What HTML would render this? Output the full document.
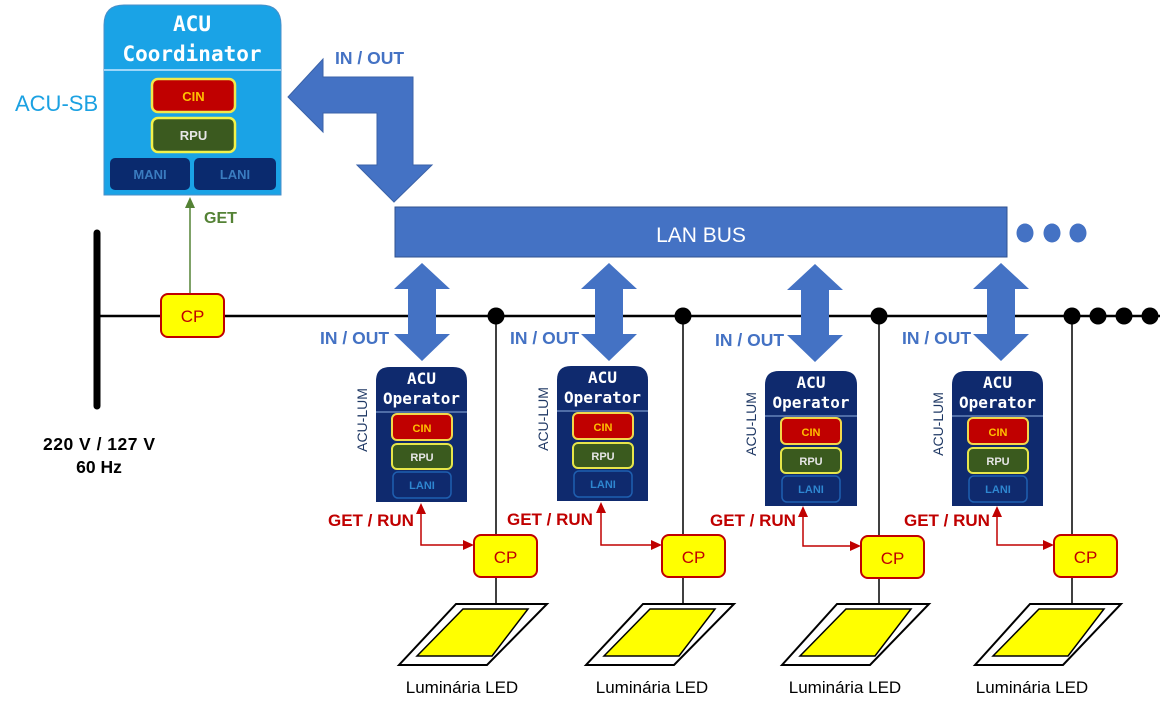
<!DOCTYPE html>
<html><head><meta charset="utf-8"><style>
html,body{margin:0;padding:0;background:#fff;}
svg{display:block;}
text{font-family:"Liberation Sans",sans-serif;}
.mono{font-family:"DejaVu Sans Mono","Liberation Mono",monospace;font-weight:bold;}
.b{font-weight:bold;}
.io{font-weight:bold;font-size:17.5px;fill:#4472c4;}
.gr{font-weight:bold;font-size:17px;fill:#c00000;}
.lum{font-size:17px;fill:#000;}
</style></head><body>
<svg width="1163" height="709" viewBox="0 0 1163 709" xmlns="http://www.w3.org/2000/svg">
<text x="15" y="111" font-size="22" fill="#1ba1e2">ACU-SB</text>

<path d="M104,195 V25 Q104,5 124,5 H261 Q281,5 281,25 V195 Z" fill="#1aa3e6" stroke="#4a8fc8" stroke-width="1"/>
<text x="192" y="31" class="mono" font-size="21" fill="#fff" text-anchor="middle">ACU</text>
<text x="192" y="61" class="mono" font-size="21" fill="#fff" text-anchor="middle">Coordinator</text>
<line x1="104" y1="70" x2="281" y2="70" stroke="#c8e8ff" stroke-width="1.5"/>
<rect x="152" y="79" width="83" height="33" rx="6" fill="#c00000" stroke="#f2e84a" stroke-width="2.5"/>
<text x="193.5" y="101" class="b" font-size="13" fill="#ffc000" text-anchor="middle">CIN</text>
<rect x="152" y="118" width="83" height="34" rx="6" fill="#3b5a1f" stroke="#f2f24a" stroke-width="2.5"/>
<text x="193.5" y="140" class="b" font-size="13" fill="#e6e6e6" text-anchor="middle">RPU</text>
<rect x="110" y="158" width="80" height="32" rx="5" fill="#0a2a6e"/>
<text x="150" y="179" class="b" font-size="13" fill="#3a7cc0" text-anchor="middle">MANI</text>
<rect x="194" y="158" width="82" height="32" rx="5" fill="#0a2a6e"/>
<text x="235" y="179" class="b" font-size="13" fill="#3a7cc0" text-anchor="middle">LANI</text>

<polygon points="288,97 323,59 323,77 413,77 413,165 432,165 394,202 357,165 377,165 377,113 323,113 323,132" fill="#4472c4" stroke="#3a62a8" stroke-width="1"/>
<text x="335" y="64" class="io">IN / OUT</text>

<rect x="395" y="207" width="612" height="50" fill="#4472c4" stroke="#2f528f" stroke-width="1"/>
<text x="701" y="242" font-size="21" fill="#fff" text-anchor="middle">LAN BUS</text>
<ellipse cx="1025" cy="233" rx="8.5" ry="9.5" fill="#4472c4"/>
<ellipse cx="1052" cy="233" rx="8.5" ry="9.5" fill="#4472c4"/>
<ellipse cx="1078" cy="233" rx="8.5" ry="9.5" fill="#4472c4"/>

<line x1="97" y1="233" x2="97" y2="406" stroke="#000" stroke-width="7" stroke-linecap="round"/>
<line x1="100" y1="316" x2="1160" y2="316" stroke="#000" stroke-width="2.5"/>
<text x="43" y="450" class="b" font-size="17.5" fill="#000" textLength="112">220 V / 127 V</text>
<text x="99" y="473" class="b" font-size="17.5" fill="#000" text-anchor="middle">60 Hz</text>
<circle cx="1098" cy="316" r="8.5" fill="#000"/>
<circle cx="1124" cy="316" r="8.5" fill="#000"/>
<circle cx="1150" cy="316" r="8.5" fill="#000"/>

<line x1="190" y1="294" x2="190" y2="205" stroke="#548235" stroke-width="1.5"/>
<polygon points="190,197 185,208 195,208" fill="#548235"/>
<text x="204" y="223" class="b" font-size="16" fill="#548235">GET</text>
<rect x="161" y="294" width="63" height="43" rx="7" fill="#ffff00" stroke="#c00000" stroke-width="2"/>
<text x="192.5" y="322" font-size="17" fill="#c00000" text-anchor="middle">CP</text>

<!-- Unit 1 -->
<g>
<polygon points="422,263 450,289 436,289 436,334 450,334 422,361 394,334 408,334 408,289 394,289" fill="#4472c4"/>
<text x="320" y="344" class="io">IN / OUT</text>
<circle cx="496" cy="316" r="8.5" fill="#000"/>
<line x1="496" y1="316" x2="496" y2="604" stroke="#000" stroke-width="1.5"/>
<g transform="translate(376,367)">
<path d="M0,135 V14 Q0,0 14,0 H77 Q91,0 91,14 V135 Z" fill="#0f2a6e"/>
<text x="45.5" y="17" class="mono" font-size="16" fill="#fff" text-anchor="middle">ACU</text>
<text x="45.5" y="37" class="mono" font-size="16" fill="#fff" text-anchor="middle">Operator</text>
<line x1="0" y1="45" x2="91" y2="45" stroke="#8fb0e0" stroke-width="1"/>
<rect x="16" y="47" width="60" height="26" rx="5" fill="#c00000" stroke="#f2d84a" stroke-width="2"/>
<text x="46" y="65" class="b" font-size="11" fill="#ffc000" text-anchor="middle">CIN</text>
<rect x="16" y="77" width="60" height="25" rx="5" fill="#3a5a1e" stroke="#e6e64a" stroke-width="2"/>
<text x="46" y="94" class="b" font-size="11" fill="#e6e6e6" text-anchor="middle">RPU</text>
<rect x="17" y="105" width="58" height="26" rx="5" fill="none" stroke="#1f5fb0" stroke-width="1.5"/>
<text x="46" y="122" class="b" font-size="11" fill="#2e86d0" text-anchor="middle">LANI</text>
<text transform="translate(-9,53) rotate(-90)" font-size="14" fill="#1f3864" text-anchor="middle">ACU-LUM</text>
</g>
<polyline points="421,512 421,545 466,545" fill="none" stroke="#c00000" stroke-width="1.5"/>
<polygon points="421,503 416,514 426,514" fill="#c00000"/>
<polygon points="474,545 463,540 463,550" fill="#c00000"/>
<text x="328" y="526" class="gr">GET / RUN</text>
<rect x="474" y="535" width="63" height="42" rx="7" fill="#ffff00" stroke="#c00000" stroke-width="2"/>
<text x="505.5" y="563" font-size="17" fill="#c00000" text-anchor="middle">CP</text>
<polygon points="456,604 547,604 487,665 399,665" fill="#fff" stroke="#000" stroke-width="2"/>
<polygon points="463,609 528,609 492,656 417,656" fill="#ffff00" stroke="#000" stroke-width="1.5"/>
<text x="462" y="693" class="lum" text-anchor="middle">Luminária LED</text>
</g>

<!-- Unit 2 -->
<g>
<polygon points="609,263 637,289 623,289 623,334 637,334 609,361 581,334 595,334 595,289 581,289" fill="#4472c4"/>
<text x="510" y="344" class="io">IN / OUT</text>
<circle cx="683" cy="316" r="8.5" fill="#000"/>
<line x1="683" y1="316" x2="683" y2="604" stroke="#000" stroke-width="1.5"/>
<g transform="translate(557,366)">
<path d="M0,135 V14 Q0,0 14,0 H77 Q91,0 91,14 V135 Z" fill="#0f2a6e"/>
<text x="45.5" y="17" class="mono" font-size="16" fill="#fff" text-anchor="middle">ACU</text>
<text x="45.5" y="37" class="mono" font-size="16" fill="#fff" text-anchor="middle">Operator</text>
<line x1="0" y1="45" x2="91" y2="45" stroke="#8fb0e0" stroke-width="1"/>
<rect x="16" y="47" width="60" height="26" rx="5" fill="#c00000" stroke="#f2d84a" stroke-width="2"/>
<text x="46" y="65" class="b" font-size="11" fill="#ffc000" text-anchor="middle">CIN</text>
<rect x="16" y="77" width="60" height="25" rx="5" fill="#3a5a1e" stroke="#e6e64a" stroke-width="2"/>
<text x="46" y="94" class="b" font-size="11" fill="#e6e6e6" text-anchor="middle">RPU</text>
<rect x="17" y="105" width="58" height="26" rx="5" fill="none" stroke="#1f5fb0" stroke-width="1.5"/>
<text x="46" y="122" class="b" font-size="11" fill="#2e86d0" text-anchor="middle">LANI</text>
<text transform="translate(-9,53) rotate(-90)" font-size="14" fill="#1f3864" text-anchor="middle">ACU-LUM</text>
</g>
<polyline points="601,511 601,545 654,545" fill="none" stroke="#c00000" stroke-width="1.5"/>
<polygon points="601,502 596,513 606,513" fill="#c00000"/>
<polygon points="662,545 651,540 651,550" fill="#c00000"/>
<text x="507" y="525" class="gr">GET / RUN</text>
<rect x="662" y="535" width="63" height="42" rx="7" fill="#ffff00" stroke="#c00000" stroke-width="2"/>
<text x="693.5" y="563" font-size="17" fill="#c00000" text-anchor="middle">CP</text>
<polygon points="643,604 734,604 674,665 586,665" fill="#fff" stroke="#000" stroke-width="2"/>
<polygon points="650,609 715,609 679,656 604,656" fill="#ffff00" stroke="#000" stroke-width="1.5"/>
<text x="652" y="693" class="lum" text-anchor="middle">Luminária LED</text>
</g>

<!-- Unit 3 -->
<g>
<polygon points="815,264 843,290 829,290 829,335 843,335 815,362 787,335 801,335 801,290 787,290" fill="#4472c4"/>
<text x="715" y="346" class="io">IN / OUT</text>
<circle cx="879" cy="316" r="8.5" fill="#000"/>
<line x1="879" y1="316" x2="879" y2="604" stroke="#000" stroke-width="1.5"/>
<g transform="translate(765,371)">
<path d="M0,135 V14 Q0,0 14,0 H78 Q92,0 92,14 V135 Z" fill="#0f2a6e"/>
<text x="46" y="17" class="mono" font-size="16" fill="#fff" text-anchor="middle">ACU</text>
<text x="46" y="37" class="mono" font-size="16" fill="#fff" text-anchor="middle">Operator</text>
<line x1="0" y1="45" x2="92" y2="45" stroke="#8fb0e0" stroke-width="1"/>
<rect x="16" y="47" width="60" height="26" rx="5" fill="#c00000" stroke="#f2d84a" stroke-width="2"/>
<text x="46" y="65" class="b" font-size="11" fill="#ffc000" text-anchor="middle">CIN</text>
<rect x="16" y="77" width="60" height="25" rx="5" fill="#3a5a1e" stroke="#e6e64a" stroke-width="2"/>
<text x="46" y="94" class="b" font-size="11" fill="#e6e6e6" text-anchor="middle">RPU</text>
<rect x="17" y="105" width="58" height="26" rx="5" fill="none" stroke="#1f5fb0" stroke-width="1.5"/>
<text x="46" y="122" class="b" font-size="11" fill="#2e86d0" text-anchor="middle">LANI</text>
<text transform="translate(-9,53) rotate(-90)" font-size="14" fill="#1f3864" text-anchor="middle">ACU-LUM</text>
</g>
<polyline points="803,515 803,546 853,546" fill="none" stroke="#c00000" stroke-width="1.5"/>
<polygon points="803,506 798,517 808,517" fill="#c00000"/>
<polygon points="861,546 850,541 850,551" fill="#c00000"/>
<text x="710" y="526" class="gr">GET / RUN</text>
<rect x="861" y="536" width="63" height="42" rx="7" fill="#ffff00" stroke="#c00000" stroke-width="2"/>
<text x="892.5" y="564" font-size="17" fill="#c00000" text-anchor="middle">CP</text>
<polygon points="837,604 929,604 870,665 782,665" fill="#fff" stroke="#000" stroke-width="2"/>
<polygon points="846,609 911,609 875,656 800,656" fill="#ffff00" stroke="#000" stroke-width="1.5"/>
<text x="845" y="693" class="lum" text-anchor="middle">Luminária LED</text>
</g>

<!-- Unit 4 -->
<g>
<polygon points="1001,263 1029,289 1015,289 1015,334 1029,334 1001,361 973,334 987,334 987,289 973,289" fill="#4472c4"/>
<text x="902" y="344" class="io">IN / OUT</text>
<circle cx="1072" cy="316" r="8.5" fill="#000"/>
<line x1="1072" y1="316" x2="1072" y2="604" stroke="#000" stroke-width="1.5"/>
<g transform="translate(952,371)">
<path d="M0,135 V14 Q0,0 14,0 H77 Q91,0 91,14 V135 Z" fill="#0f2a6e"/>
<text x="45.5" y="17" class="mono" font-size="16" fill="#fff" text-anchor="middle">ACU</text>
<text x="45.5" y="37" class="mono" font-size="16" fill="#fff" text-anchor="middle">Operator</text>
<line x1="0" y1="45" x2="91" y2="45" stroke="#8fb0e0" stroke-width="1"/>
<rect x="16" y="47" width="60" height="26" rx="5" fill="#c00000" stroke="#f2d84a" stroke-width="2"/>
<text x="46" y="65" class="b" font-size="11" fill="#ffc000" text-anchor="middle">CIN</text>
<rect x="16" y="77" width="60" height="25" rx="5" fill="#3a5a1e" stroke="#e6e64a" stroke-width="2"/>
<text x="46" y="94" class="b" font-size="11" fill="#e6e6e6" text-anchor="middle">RPU</text>
<rect x="17" y="105" width="58" height="26" rx="5" fill="none" stroke="#1f5fb0" stroke-width="1.5"/>
<text x="46" y="122" class="b" font-size="11" fill="#2e86d0" text-anchor="middle">LANI</text>
<text transform="translate(-9,53) rotate(-90)" font-size="14" fill="#1f3864" text-anchor="middle">ACU-LUM</text>
</g>
<polyline points="997,515 997,545 1046,545" fill="none" stroke="#c00000" stroke-width="1.5"/>
<polygon points="997,506 992,517 1002,517" fill="#c00000"/>
<polygon points="1054,545 1043,540 1043,550" fill="#c00000"/>
<text x="904" y="526" class="gr">GET / RUN</text>
<rect x="1054" y="535" width="63" height="42" rx="7" fill="#ffff00" stroke="#c00000" stroke-width="2"/>
<text x="1085.5" y="563" font-size="17" fill="#c00000" text-anchor="middle">CP</text>
<polygon points="1030,604 1121,604 1063,665 975,665" fill="#fff" stroke="#000" stroke-width="2"/>
<polygon points="1039,609 1104,609 1068,656 993,656" fill="#ffff00" stroke="#000" stroke-width="1.5"/>
<text x="1032" y="693" class="lum" text-anchor="middle">Luminária LED</text>
</g>
</svg>
</body></html>
